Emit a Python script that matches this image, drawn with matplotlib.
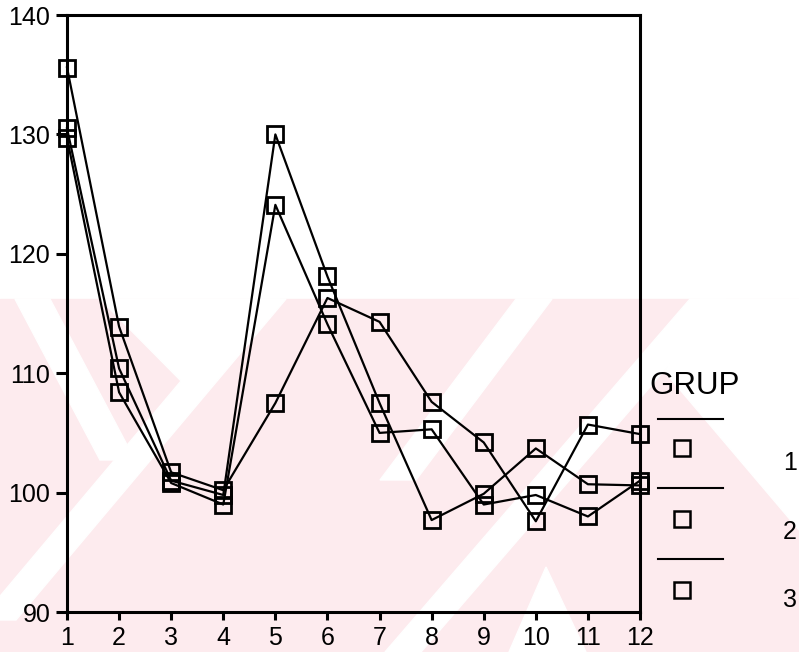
import matplotlib.pyplot as plt
from matplotlib.lines import Line2D
from matplotlib.patches import Polygon, Rectangle

# group means per time point
time_points = [1, 2, 3, 4, 5, 6, 7, 8, 9, 10, 11, 12]
grup_1 = [130.5, 110.4, 101.0, 99.8, 130.0, 118.1, 107.5, 97.7, 99.9, 103.7, 100.7, 100.6]
grup_2 = [129.7, 108.4, 100.8, 99.0, 124.1, 114.1, 105.0, 105.3, 99.0, 99.8, 98.0, 101.0]
grup_3 = [135.6, 113.9, 101.7, 100.2, 107.5, 116.3, 114.3, 107.6, 104.2, 97.6, 105.7, 104.9]
group_labels = ["1", "2", "3"]
y_ticks = [90, 100, 110, 120, 130, 140]

W, H = 799, 652
PINK = "#fdebee"


def px(x, y):
    # pixel position (origin top-left) -> figure fraction
    return (x / W, 1 - y / H)


def band(x0, y0, x1, y1, width):
    # slanted white stripe between two pixel points
    return [px(x0, y0), px(x0 + width, y0), px(x1 + width, y1), px(x1, y1)]


def draw_watermark(fig):
    # faint pink scan watermark in the lower half
    fig.patches.append(Rectangle(px(0, 652), 1, (652 - 299) / H,
                                 transform=fig.transFigure, color=PINK, zorder=-2))
    shapes = [
        [px(100, 299), px(280, 299), px(192, 392)],
        band(15, 299, 100, 460, 35),
        band(516, 299, 380, 480, 36),
        band(690, 299, 385, 652, 36),
        band(250, 299, -20, 620, 36),
        [px(509, 652), px(546, 567), px(586, 652)],
        [px(700, 299), px(799, 299), px(799, 530), px(665, 372)],
    ]
    for pts in shapes:
        fig.patches.append(Polygon(pts, closed=True, transform=fig.transFigure,
                                   color="white", zorder=-1))


def draw_legend(fig):
    fig.text(649 / W, 1 - 394 / H, "GRUP", fontsize=22.5, family="Liberation Sans",
             ha="left", va="baseline", zorder=5)
    line_y = [419, 488, 559]
    mark_y = [448, 519, 590]
    text_y = [463, 532, 600]
    for ly, my, ty, lab in zip(line_y, mark_y, text_y, group_labels):
        fig.add_artist(Line2D([658 / W, 723 / W], [1 - ly / H, 1 - ly / H],
                              color="black", lw=1.5, transform=fig.transFigure, zorder=5))
        fig.add_artist(Line2D([682 / W], [1 - my / H], marker="s", ms=11.5,
                              mfc="none", mec="black", mew=1.8, ls="none",
                              transform=fig.transFigure, zorder=5))
        fig.text(790 / W, 1 - ty / H, lab, fontsize=18, family="Liberation Sans",
                 ha="center", va="center", zorder=5)


def main() -> None:
    fig = plt.figure(figsize=(W / 100, H / 100), dpi=100)
    draw_watermark(fig)

    ax = fig.add_axes([67 / W, 1 - 612 / H, (640 - 67) / W, (612 - 15) / H])
    ax.set_facecolor("none")
    ax.set_zorder(2)

    for series in (grup_1, grup_2, grup_3):
        ax.plot(time_points, series, color="black", lw=1.6, marker="s", ms=11.5,
                mfc="none", mec="black", mew=2.0, clip_on=False, zorder=3)

    ax.set_xlim(1, 12)
    ax.set_ylim(90, 140)
    ax.set_xticks(time_points)
    ax.set_yticks(y_ticks)
    for side in ("left", "right", "top", "bottom"):
        ax.spines[side].set_linewidth(2.2)
    ax.tick_params(axis="both", direction="out", width=2.2, labelsize=18, pad=4)
    ax.tick_params(axis="y", length=8)
    ax.tick_params(axis="x", length=6)
    for lab in ax.get_xticklabels() + ax.get_yticklabels():
        lab.set_family("Liberation Sans")

    draw_legend(fig)
    fig.savefig("out.png", dpi=100)


if __name__ == "__main__":
    main()
